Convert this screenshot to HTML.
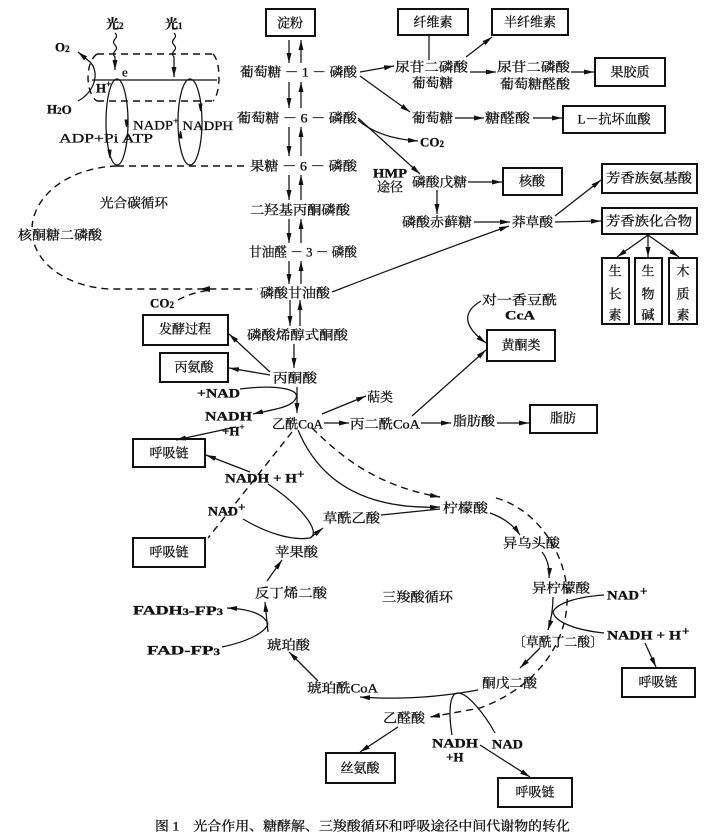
<!DOCTYPE html>
<html><head><meta charset="utf-8"><style>
html,body{margin:0;padding:0;background:#fff;}
svg{display:block;}
text{font-family:"Liberation Serif","Noto Serif CJK SC",serif;font-size:13px;fill:#111;dominant-baseline:central;stroke:#111;stroke-width:0.3;}
.l{font-weight:bold;}
.box{fill:none;stroke:#111;stroke-width:2;}
.ln{fill:none;stroke:#111;stroke-width:1.25;}
.ds{fill:none;stroke:#111;stroke-width:1.4;stroke-dasharray:7,5;}
</style></head><body>
<svg width="713" height="840" viewBox="0 0 713 840" xmlns="http://www.w3.org/2000/svg">
<defs>
<marker id="a" viewBox="0 0 10 6" refX="10" refY="3" markerWidth="10" markerHeight="6" markerUnits="userSpaceOnUse" orient="auto"><path d="M0,0.5 L10,3 L0,5.5 z" fill="#111"/></marker>
</defs>

<!-- photosynthesis cylinder -->
<path class="ds" d="M97,54 L213,54 M97,101 L213,101" />
<path class="ds" d="M97,54 C85,62 85,93 97,101" />
<path class="ds" d="M213,54 C221,62 221,93 213,101" />
<path class="ln" d="M92,80 L217,80" stroke-width="1.3"/>
<ellipse class="ln" cx="117" cy="122" rx="11" ry="43"/>
<ellipse class="ln" cx="190" cy="122" rx="12" ry="43"/>
<path d="M125,120 l3,0 l-1.5,7 z M108,150 l3,0 l-1,8 z M199,104 l3,0 l-1.5,7 z M179,138 l3,0 l-1.5,-7 z" fill="#111" stroke="#111"/>
<path class="ln" d="M115,33 q3,3 0,6 q-3,3 0,6 q3,3 0,6 q-3,3 0,6 L115,70" marker-end="url(#a)"/>
<path class="ln" d="M174,33 q3,3 0,6 q-3,3 0,6 q3,3 0,6 q-3,3 0,6 L174,77" marker-end="url(#a)"/>
<path class="ln" d="M78,101 C95,92 100,72 90,62 L78,52" marker-end="url(#a)"/>
<text x="106" y="24" class="l">光<tspan font-size="9" dy="2">2</tspan></text>
<text x="165" y="24" class="l">光<tspan font-size="9" dy="2">1</tspan></text>
<text x="55" y="47" class="l">O<tspan font-size="9" dy="2">2</tspan></text>
<text x="47" y="109" class="l">H<tspan font-size="9" dy="2">2</tspan><tspan dy="-2">O</tspan></text>
<text x="122" y="72">e</text>
<text x="96" y="88" class="l">H<tspan font-size="9" dy="-4">+</tspan></text>
<text x="133" y="125" textLength="100" lengthAdjust="spacingAndGlyphs">NADP<tspan font-size="9" dy="-4">+</tspan><tspan dy="4"> NADPH</tspan></text>
<text x="59" y="138" textLength="94" lengthAdjust="spacingAndGlyphs">ADP+Pi ATP</text>

<!-- carbon cycle dashed -->
<path class="ds" d="M117,166 L248,166"/>
<path class="ds" d="M117,166 C65,168 33,198 32,228 C31,262 66,287 110,289 L258,289"/>
<path d="M200,289 l10,-3 l0,6 z" fill="#111"/>
<path class="ds" d="M178,300 Q192,292 212,290" stroke-dasharray="5,4"/>
<text x="100" y="203" textLength="68" lengthAdjust="spacingAndGlyphs">光合碳循环</text>
<rect x="18" y="227" width="84" height="16" fill="#fff"/>
<text x="18" y="235" textLength="84" lengthAdjust="spacingAndGlyphs">核酮糖二磷酸</text>
<text x="150" y="303" class="l">CO<tspan font-size="9" dy="2">2</tspan></text>

<!-- main column -->
<rect class="box" x="266" y="9" width="49" height="27"/>
<text x="290" y="23" text-anchor="middle">淀粉</text>
<g class="ln">
<path d="M289,40 L289,63" marker-end="url(#a)"/><path d="M301,63 L301,40" marker-end="url(#a)"/>
<path d="M289,82 L289,108" marker-end="url(#a)"/><path d="M301,108 L301,82" marker-end="url(#a)"/>
<path d="M289,127 L289,156" marker-end="url(#a)"/><path d="M301,156 L301,127" marker-end="url(#a)"/>
<path d="M289,175 L289,200" marker-end="url(#a)"/><path d="M301,200 L301,175" marker-end="url(#a)"/>
<path d="M289,219 L289,243" marker-end="url(#a)"/><path d="M301,243 L301,219" marker-end="url(#a)"/>
<path d="M289,261 L289,284" marker-end="url(#a)"/><path d="M301,284 L301,261" marker-end="url(#a)"/>
<path d="M290,300 L290,326" marker-end="url(#a)"/><path d="M300,326 L300,300" marker-end="url(#a)"/>
<path d="M294,344 L294,368" marker-end="url(#a)"/>
<path d="M297,387 L297,413" marker-end="url(#a)"/>
</g>
<text x="240" y="72" textLength="117" lengthAdjust="spacingAndGlyphs">葡萄糖 － 1 － 磷酸</text>
<text x="237" y="118" textLength="120" lengthAdjust="spacingAndGlyphs">葡萄糖 － 6 － 磷酸</text>
<text x="250" y="166" textLength="107" lengthAdjust="spacingAndGlyphs">果糖 － 6 － 磷酸</text>
<text x="250" y="210" textLength="100" lengthAdjust="spacingAndGlyphs">二羟基丙酮磷酸</text>
<text x="249" y="252" textLength="108" lengthAdjust="spacingAndGlyphs">甘油醛 － 3 － 磷酸</text>
<text x="260" y="293" textLength="70" lengthAdjust="spacingAndGlyphs">磷酸甘油酸</text>
<text x="247" y="335" textLength="101" lengthAdjust="spacingAndGlyphs">磷酸烯醇式酮酸</text>
<text x="273" y="378" textLength="44" lengthAdjust="spacingAndGlyphs">丙酮酸</text>
<text x="272" y="424" textLength="51" lengthAdjust="spacingAndGlyphs">乙酰CoA</text>

<!-- top right -->
<rect class="box" x="398" y="9" width="70" height="26"/>
<text x="433" y="22" text-anchor="middle">纤维素</text>
<rect class="box" x="492" y="9" width="76" height="26"/>
<text x="530" y="22" text-anchor="middle">半纤维素</text>
<text x="395" y="67" textLength="73" lengthAdjust="spacingAndGlyphs">尿苷二磷酸</text>
<text x="412" y="83" textLength="41" lengthAdjust="spacingAndGlyphs">葡萄糖</text>
<text x="497" y="67" textLength="73" lengthAdjust="spacingAndGlyphs">尿苷二磷酸</text>
<text x="500" y="84" textLength="70" lengthAdjust="spacingAndGlyphs">葡萄糖醛酸</text>
<rect class="box" x="595" y="58" width="70" height="28"/>
<text x="630" y="72" text-anchor="middle">果胶质</text>
<text x="412" y="118" textLength="41" lengthAdjust="spacingAndGlyphs">葡萄糖</text>
<text x="485" y="118" textLength="45" lengthAdjust="spacingAndGlyphs">糖醛酸</text>
<rect class="box" x="563" y="106" width="102" height="27"/>
<text x="614" y="119" text-anchor="middle">L－抗坏血酸</text>
<text x="420" y="142" class="l">CO<tspan font-size="9" dy="2">2</tspan></text>
<text x="373" y="173" class="l" textLength="34" lengthAdjust="spacingAndGlyphs">HMP</text>
<text x="377" y="187" textLength="26" lengthAdjust="spacingAndGlyphs">途径</text>
<text x="412" y="182" textLength="55" lengthAdjust="spacingAndGlyphs">磷酸戊糖</text>
<rect class="box" x="503" y="168" width="59" height="27"/>
<text x="532" y="181" text-anchor="middle">核酸</text>
<text x="402" y="222" textLength="70" lengthAdjust="spacingAndGlyphs">磷酸赤藓糖</text>
<text x="512" y="222" textLength="41" lengthAdjust="spacingAndGlyphs">莽草酸</text>
<rect class="box" x="602" y="164" width="95" height="29"/>
<text x="649" y="178" text-anchor="middle" textLength="86" lengthAdjust="spacingAndGlyphs">芳香族氨基酸</text>
<rect class="box" x="602" y="208" width="95" height="26"/>
<text x="649" y="221" text-anchor="middle" textLength="86" lengthAdjust="spacingAndGlyphs">芳香族化合物</text>
<rect class="box" x="602" y="258" width="27" height="66"/>
<rect class="box" x="635" y="258" width="27" height="66"/>
<rect class="box" x="669" y="258" width="28" height="66"/>
<text x="615" y="271" text-anchor="middle">生</text><text x="615" y="294" text-anchor="middle">长</text><text x="615" y="315" text-anchor="middle">素</text>
<text x="648" y="271" text-anchor="middle">生</text><text x="648" y="294" text-anchor="middle">物</text><text x="648" y="315" text-anchor="middle">碱</text>
<text x="683" y="271" text-anchor="middle">木</text><text x="683" y="294" text-anchor="middle">质</text><text x="683" y="315" text-anchor="middle">素</text>

<g class="ln">
<path d="M360,72 L394,66" marker-end="url(#a)"/>
<path d="M360,76 L410,112" marker-end="url(#a)"/>
<path d="M429,60 L429,36"/>
<path d="M466,57 L492,37" marker-end="url(#a)"/>
<path d="M470,72 L496,72" marker-end="url(#a)"/>
<path d="M571,72 L594,72" marker-end="url(#a)"/>
<path d="M455,118 L484,118" marker-end="url(#a)"/>
<path d="M533,118 L562,118" marker-end="url(#a)"/>
<path d="M358,120 Q378,138 418,141" marker-end="url(#a)"/>
<path d="M358,118 L420,174" marker-end="url(#a)"/>
<path d="M468,182 L502,182" marker-end="url(#a)"/>
<path d="M437,190 L437,214" marker-end="url(#a)"/>
<path d="M474,222 L510,222" marker-end="url(#a)"/>
<path d="M555,216 L601,180" marker-end="url(#a)"/>
<path d="M555,222 L601,221" marker-end="url(#a)"/>
<path d="M648,235 L617,257" marker-end="url(#a)"/>
<path d="M648,235 L648,257" marker-end="url(#a)"/>
<path d="M648,235 L679,257" marker-end="url(#a)"/>
<path d="M332,292 Q420,258 509,226" marker-end="url(#a)"/>
</g>

<!-- middle -->
<text x="482" y="300" textLength="75" lengthAdjust="spacingAndGlyphs">对一香豆酰</text>
<text x="505" y="315" class="l" textLength="30" lengthAdjust="spacingAndGlyphs">CcA</text>
<rect class="box" x="487" y="330" width="68" height="31"/>
<text x="521" y="345" text-anchor="middle">黄酮类</text>
<text x="367" y="397" textLength="26" lengthAdjust="spacingAndGlyphs">萜类</text>
<text x="350" y="424" textLength="70" lengthAdjust="spacingAndGlyphs">丙二酰CoA</text>
<text x="453" y="421" textLength="42" lengthAdjust="spacingAndGlyphs">脂肪酸</text>
<rect class="box" x="530" y="405" width="67" height="28"/>
<text x="563" y="418" text-anchor="middle">脂肪</text>
<rect class="box" x="143" y="315" width="85" height="30"/>
<text x="185" y="329" text-anchor="middle">发酵过程</text>
<rect class="box" x="160" y="353" width="68" height="29"/>
<text x="194" y="367" text-anchor="middle">丙氨酸</text>
<text x="197" y="393" class="l" textLength="43" lengthAdjust="spacingAndGlyphs">+NAD</text>
<text x="205" y="416" class="l" textLength="47" lengthAdjust="spacingAndGlyphs">NADH</text>
<text x="222" y="431" class="l">+H<tspan font-size="9" dy="-4">+</tspan></text>
<rect class="box" x="133" y="439" width="72" height="28"/>
<text x="169" y="453" text-anchor="middle">呼吸链</text>
<text x="225" y="478" class="l" textLength="72" lengthAdjust="spacingAndGlyphs">NADH + H</text>
<text x="297" y="474" font-size="9" class="l">+</text>
<text x="208" y="511" class="l" textLength="30" lengthAdjust="spacingAndGlyphs">NAD</text>
<text x="238" y="507" font-size="9" class="l">+</text>
<text x="323" y="518" textLength="57" lengthAdjust="spacingAndGlyphs">草酰乙酸</text>
<text x="443" y="508" textLength="45" lengthAdjust="spacingAndGlyphs">柠檬酸</text>
<rect class="box" x="133" y="538" width="72" height="29"/>
<text x="169" y="552" text-anchor="middle">呼吸链</text>

<g class="ln">
<path d="M412,416 L486,350" marker-end="url(#a)"/>
<path d="M481,301 Q452,318 486,343" marker-end="url(#a)"/>
<path d="M322,414 L366,396" marker-end="url(#a)"/>
<path d="M324,423 L349,423" marker-end="url(#a)"/>
<path d="M421,423 L451,423" marker-end="url(#a)"/>
<path d="M497,423 L529,423" marker-end="url(#a)"/>
<path d="M270,372 L229,334" marker-end="url(#a)"/>
<path d="M270,375 L229,368" marker-end="url(#a)"/>
<path d="M240,389 C280,384 300,390 296,398 C292,408 270,410 253,414" marker-end="url(#a)"/>
<path d="M236,427 L176,440" marker-end="url(#a)"/>
<path d="M250,472 L206,455" marker-end="url(#a)"/>
<path d="M268,484 C300,505 322,532 310,538"/>
<path d="M243,519 C265,532 290,541 310,538"/>
<path d="M310,538 L323,528" marker-end="url(#a)"/>
<path d="M298,430 C318,478 360,510 440,507" marker-end="url(#a)"/>
<path d="M381,515 L440,509"/>
</g>
<path class="ds" d="M292,432 L208,538" stroke-dasharray="8,6"/>
<path class="ds" d="M312,428 C335,450 370,485 440,497" marker-end="url(#a)"/>

<!-- TCA -->
<text x="275" y="552" textLength="43" lengthAdjust="spacingAndGlyphs">苹果酸</text>
<text x="255" y="593" textLength="72" lengthAdjust="spacingAndGlyphs">反丁烯二酸</text>
<text x="382" y="597" textLength="71" lengthAdjust="spacingAndGlyphs">三羧酸循环</text>
<text x="133" y="610" class="l" textLength="90" lengthAdjust="spacingAndGlyphs">FADH<tspan font-size="9" dy="2">3</tspan><tspan dy="-2">-FP</tspan><tspan font-size="9" dy="2">3</tspan></text>
<text x="147" y="650" class="l" textLength="73" lengthAdjust="spacingAndGlyphs">FAD-FP<tspan font-size="9" dy="2">3</tspan></text>
<text x="267" y="645" textLength="43" lengthAdjust="spacingAndGlyphs">琥珀酸</text>
<text x="307" y="688" textLength="71" lengthAdjust="spacingAndGlyphs">琥珀酰CoA</text>
<text x="383" y="718" textLength="42" lengthAdjust="spacingAndGlyphs">乙醛酸</text>
<rect class="box" x="326" y="753" width="69" height="30"/>
<text x="360" y="768" text-anchor="middle">丝氨酸</text>
<text x="503" y="543" textLength="57" lengthAdjust="spacingAndGlyphs">异乌头酸</text>
<text x="532" y="588" textLength="58" lengthAdjust="spacingAndGlyphs">异柠檬酸</text>
<text x="607" y="595" class="l" textLength="32" lengthAdjust="spacingAndGlyphs">NAD</text>
<text x="640" y="591" font-size="9" class="l">+</text>
<text x="607" y="635" class="l" textLength="74" lengthAdjust="spacingAndGlyphs">NADH + H</text>
<text x="682" y="631" font-size="9" class="l">+</text>
<text x="513" y="642" textLength="90" lengthAdjust="spacingAndGlyphs">〔草酰丁二酸〕</text>
<rect class="box" x="622" y="668" width="73" height="29"/>
<text x="658" y="682" text-anchor="middle">呼吸链</text>
<text x="482" y="683" textLength="55" lengthAdjust="spacingAndGlyphs">酮戊二酸</text>
<text x="432" y="743" class="l" textLength="46" lengthAdjust="spacingAndGlyphs">NADH</text>
<text x="446" y="757" class="l">+H</text>
<text x="492" y="744" class="l" textLength="31" lengthAdjust="spacingAndGlyphs">NAD</text>
<rect class="box" x="498" y="778" width="74" height="29"/>
<text x="535" y="792" text-anchor="middle">呼吸链</text>

<g class="ln">
<path d="M490,513 Q510,520 520,535" marker-end="url(#a)"/>
<path d="M542,552 Q550,562 549,578" marker-end="url(#a)"/>
<path d="M553,597 Q553,614 548,630" marker-end="url(#a)"/>
<path d="M540,648 L520,668" marker-end="url(#a)"/>
<path d="M478,690 C440,697 400,700 360,697" marker-end="url(#a)"/>
<path d="M318,681 L289,652" marker-end="url(#a)"/>
<path d="M268,632 L265,602" marker-end="url(#a)"/>
<path d="M267,581 L282,560" marker-end="url(#a)"/>
<path d="M222,647 C250,641 265,632 268,624"/>
<path d="M268,624 C264,614 250,609 227,608" marker-end="url(#a)"/>
<path d="M604,595 C575,597 556,604 553,612 C555,622 575,630 604,633"/>
<path d="M645,643 L656,667" marker-end="url(#a)"/>
<path d="M452,735 C448,710 450,693 458,693 C468,693 485,715 495,733"/>
<path d="M480,745 L530,777" marker-end="url(#a)"/>
<path d="M398,727 L360,752" marker-end="url(#a)"/>
</g>
<path class="ds" d="M496,498 C540,510 570,560 567,603 C565,650 530,690 480,708 L430,717" marker-end="url(#a)"/>

<text x="155" y="826" font-size="12" textLength="415" lengthAdjust="spacingAndGlyphs">图 1　光合作用、糖酵解、三羧酸循环和呼吸途径中间代谢物的转化</text>
</svg>
</body></html>
